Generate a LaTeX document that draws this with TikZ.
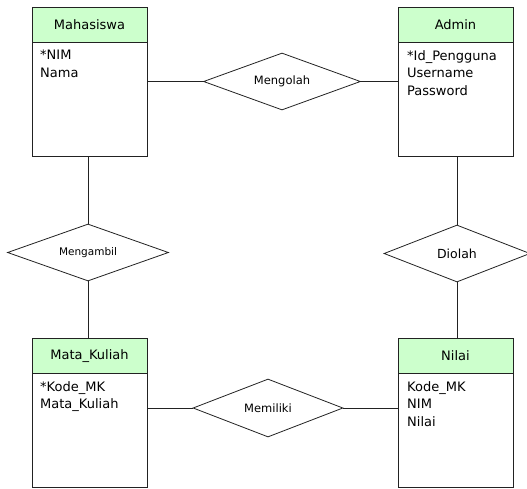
\documentclass[tikz,border=0pt]{standalone}
\usepackage{fontspec}
\setmainfont{DejaVu Sans}
\usetikzlibrary{shapes.geometric}
\definecolor{hdr}{HTML}{CCFFCC}
\definecolor{ln}{HTML}{222222}
\tikzset{
  hdrbox/.style={draw=ln, line width=0.8pt, fill=hdr, minimum width=115pt, minimum height=35pt, inner sep=0pt, font=\fontsize{13}{15}\selectfont},
  bodybox/.style={draw=ln, line width=0.8pt, fill=white, minimum width=115pt, inner sep=0pt},
  attr/.style={anchor=north west, align=left, inner sep=0pt, font=\fontsize{13}{17.5}\selectfont},
  rel/.style={diamond, draw=ln, line width=0.8pt, fill=white, inner sep=0pt, aspect=2.7},
  conn/.style={draw=ln, line width=0.8pt}
}
\begin{document}
\begin{tikzpicture}[x=1pt,y=-1pt]
\useasboundingbox (0,0) rectangle (527,488);
% entities
\node[bodybox, minimum height=114pt] (mhsb) at (89.5,99) {};
\node[hdrbox] (mhs) at (89.5,24.5) {Mahasiswa};
\node[attr] (mhsa) at (40,50) {*NIM\\Nama};

\node[bodybox, minimum height=114pt] (admb) at (455.5,99) {};
\node[hdrbox] (adm) at (455.5,24.5) {Admin};
\node[attr] (adma) at (407,50) {*Id\_Pengguna\\Username\\Password};

\node[bodybox, minimum height=114pt] (mkb) at (89.5,430) {};
\node[hdrbox] (mk) at (89.5,356) {Mata\_Kuliah};
\node[attr] (mka) at (40,381) {*Kode\_MK\\Mata\_Kuliah};

\node[bodybox, minimum height=114pt] (nlb) at (455.5,430) {};
\node[hdrbox] (nl) at (455.5,356) {Nilai};
\node[attr] (nla) at (407,381) {Kode\_MK\\NIM\\Nilai};

% relationships
\node[rel, minimum width=157pt, minimum height=57pt, font=\fontsize{11.5}{13}\selectfont] (olah) at (282,81.5) {Mengolah};
\node[rel, minimum width=161pt, minimum height=57pt, font=\fontsize{10.5}{12}\selectfont] (ambil) at (88,252.5) {Mengambil};
\node[rel, minimum width=146pt, minimum height=57pt, font=\fontsize{12.5}{14}\selectfont] (diolah) at (457,253.5) {Diolah};
\node[rel, minimum width=150pt, minimum height=58pt, font=\fontsize{11.5}{13}\selectfont] (milik) at (268,408) {Memiliki};

% connectors
\draw[conn] (mhsb.east |- olah.west) -- (olah.west);
\draw[conn] (olah.east) -- (admb.west |- olah.east);
\draw[conn] (mhsb.south -| ambil.north) -- (ambil.north);
\draw[conn] (ambil.south) -- (mk.north -| ambil.south);
\draw[conn] (admb.south -| diolah.north) -- (diolah.north);
\draw[conn] (diolah.south) -- (nl.north -| diolah.south);
\draw[conn] (mkb.east |- milik.west) -- (milik.west);
\draw[conn] (milik.east) -- (nlb.west |- milik.east);
\end{tikzpicture}
\end{document}
